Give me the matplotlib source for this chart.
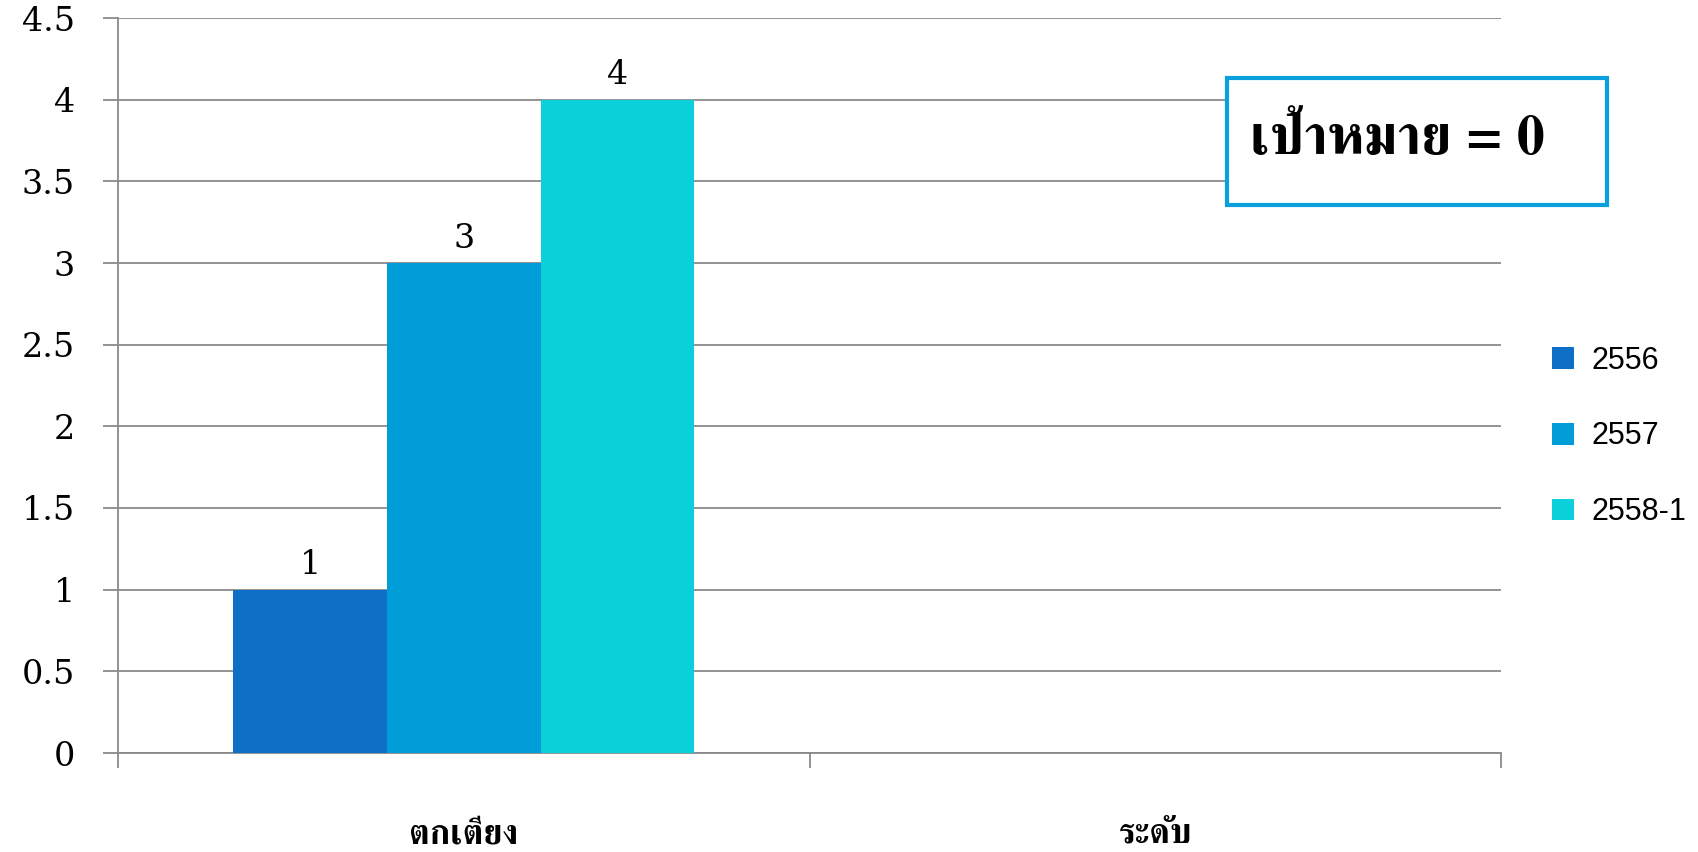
import matplotlib
matplotlib.use("Agg")
import matplotlib.pyplot as plt
from matplotlib.patches import Rectangle, Patch
import numpy as np

categories = ["ตกเตียง", "ระดับ"]
series_names = ["2556", "2557", "2558-1"]
values_2556 = [1, np.nan]
values_2557 = [3, np.nan]
values_2558 = [4, np.nan]
y_ticks = [0, 0.5, 1, 1.5, 2, 2.5, 3, 3.5, 4, 4.5]
y_tick_labels = ["0", "0.5", "1", "1.5", "2", "2.5", "3", "3.5", "4", "4.5"]
target_text = "เป้าหมาย = 0"

colors = ["#0F6FC6", "#009DD9", "#0BD0D9"]

fig = plt.figure(figsize=(16.98, 8.52), dpi=100)
ax = fig.add_axes([118/1698, 99/852, (1501-118)/1698, (753-18)/852])

x = np.arange(len(categories))
w = 0.222
all_vals = [values_2556, values_2557, values_2558]
for i, (vals, name) in enumerate(zip(all_vals, series_names)):
    ax.bar(x + (i - 1) * w, vals, width=w, color=colors[i], label=name, zorder=3)
    for xi, v in zip(x + (i - 1) * w, vals):
        if not np.isnan(v):
            ax.annotate(f"{v:g}", (xi, v), xytext=(0, 6), textcoords="offset points",
                        ha="center", va="bottom", fontsize=24, family="DejaVu Serif")

ax.set_xlim(-0.5, 1.5)
ax.set_ylim(0, 4.5)
ax.set_yticks(y_ticks)
ax.set_yticklabels(y_tick_labels, family="DejaVu Serif", fontsize=24)
ax.yaxis.grid(True, color="#8a8a8a", lw=1.3, zorder=1)
ax.tick_params(axis="y", length=11, width=1.3, color="#8a8a8a", pad=20)
ax.set_xticks(x)
ax.set_xticklabels(categories, family=["FreeSerif", "DejaVu Sans"],
                   fontsize=25, fontweight="bold")
ax.set_xticks([-0.5, 0.5, 1.5], minor=True)
ax.tick_params(axis="x", which="major", length=0, pad=48)
ax.tick_params(axis="x", which="minor", length=11, width=1.3, color="#8a8a8a")
for s in ["top", "right"]:
    ax.spines[s].set_visible(False)
for s in ["left", "bottom"]:
    ax.spines[s].set_color("#8a8a8a")
    ax.spines[s].set_linewidth(1.3)

handles = [Patch(facecolor=c, label=n) for c, n in zip(colors, series_names)]
fig.legend(handles=handles, loc="upper left", bbox_to_anchor=(1524/1698, 1 - 318/852),
           frameon=False, prop={"family": "Liberation Sans", "size": 22},
           handlelength=0.72, handleheight=0.72, labelspacing=1.5, handletextpad=0.6)

fig.patches.append(Rectangle((1227/1698, 1 - 205/852), 380/1698, 127/852, transform=fig.transFigure,
                             facecolor="white", edgecolor="#0AA0DC", lw=3, zorder=5))
fig.text(1250/1698, 1 - 141/852, target_text, ha="left", va="center", fontsize=40,
         fontweight="bold", family=["FreeSerif", "DejaVu Serif"], zorder=6)

fig.savefig("out.png", dpi=100)
